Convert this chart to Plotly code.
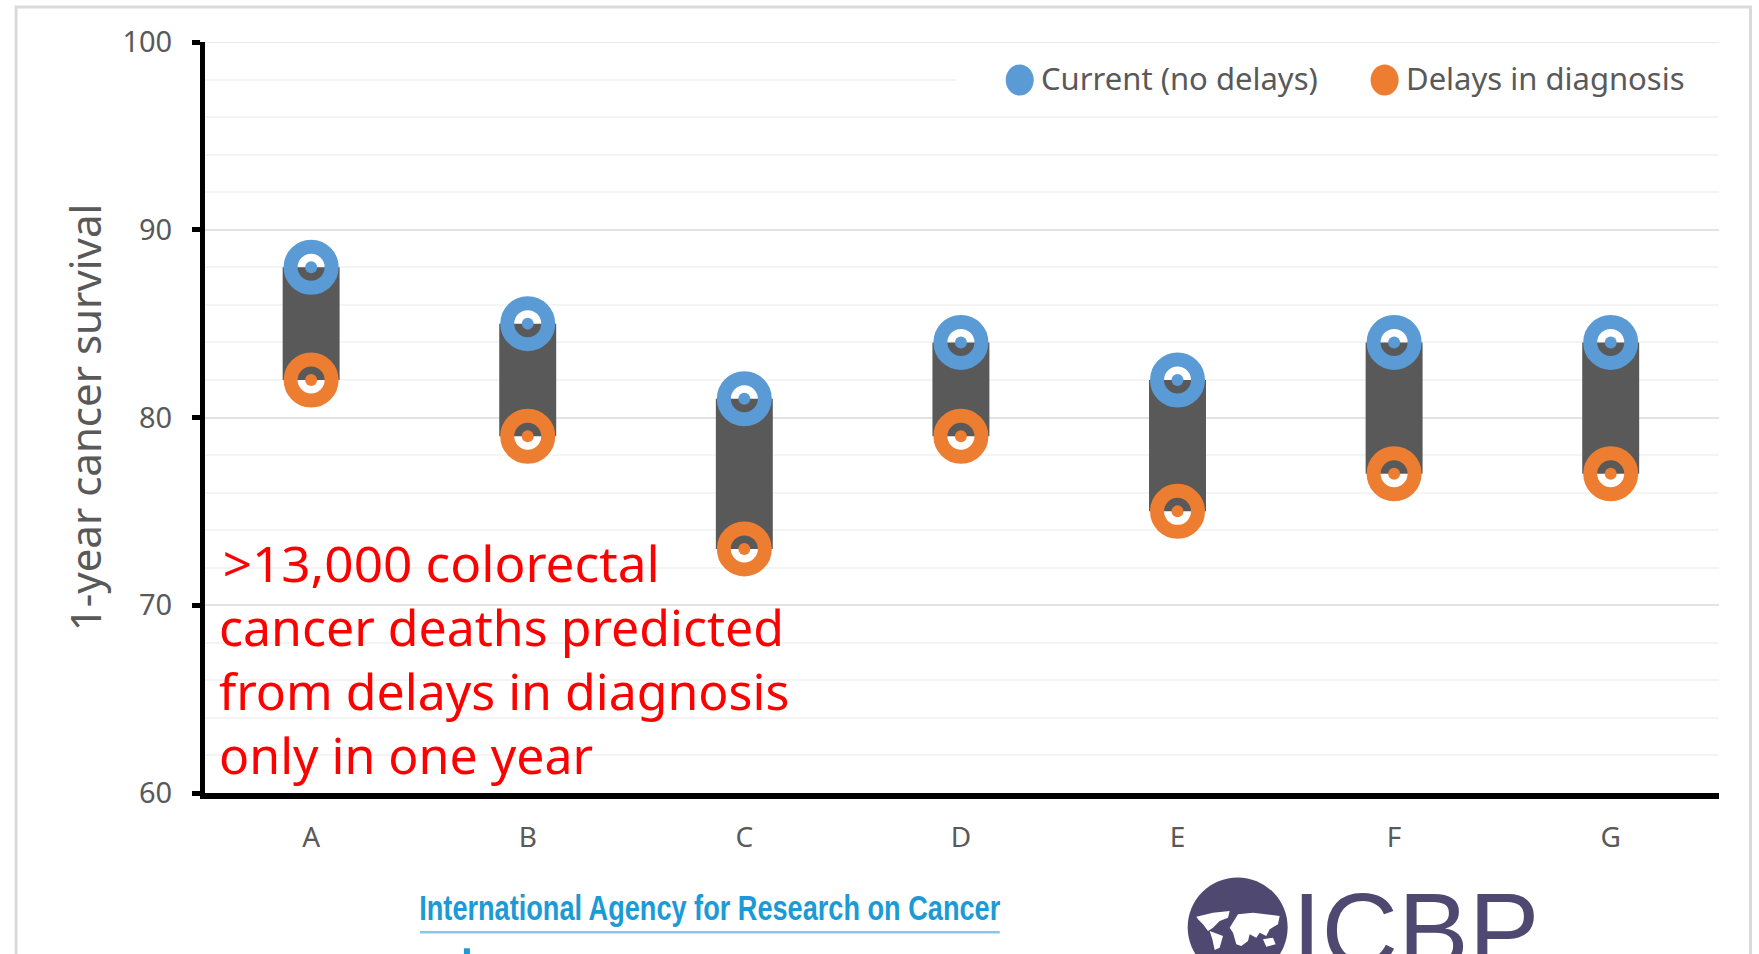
import plotly.graph_objects as go

categories = ["A", "B", "C", "D", "E", "F", "G"]
current = [88, 85, 81, 84, 82, 84, 84]
delays = [82, 79, 73, 79, 75, 77, 77]
y_ticks = [60, 70, 80, 90, 100]
note_lines = [">13,000 colorectal", "cancer deaths predicted", "from delays in diagnosis", "only in one year"]
BLUE, ORANGE, GRAY = "#5B9BD5", "#ED7D31", "#595959"
PURPLE = "#4F4870"
FONT = "Noto Sans"
L, T, PW, PH = 205, 41.5, 1514.5, 752

def fx(p): return (p - L) / PW
def fy(p): return 1 - (p - T) / PH

# world-map emblem of the logo, traced in pixels relative to the logo crop
LAND = [
    [(80,172),(130,160),(180,155),(175,175),(150,185),(130,205),(115,215),(100,195),(85,180)],
    [(120,215),(160,230),(150,265),(135,272),(128,240)],
    [(180,205),(205,165),(250,160),(330,170),(325,195),(300,210),(290,230),(270,220),(260,235),(240,225),(235,245),(215,260),(200,255),(190,220)],
    [(280,240),(310,235),(318,255),(290,262)],
]
def land_path(pts):
    coords = [(fx(1170 + a / 3), fy(860 + b / 3)) for a, b in pts]
    return "M" + " L".join(f"{a:.5f},{b:.5f}" for a, b in coords) + " Z"

fig = go.Figure()
fig.add_trace(go.Bar(x=categories, y=[c - d for c, d in zip(current, delays)], base=delays,
                     width=0.263, marker=dict(color=GRAY, line_width=0), name="Range", showlegend=False))
for name, vals, col in [("Current (no delays)", current, BLUE), ("Delays in diagnosis", delays, ORANGE)]:
    fig.add_trace(go.Scatter(x=categories, y=vals, mode="markers", name=name, showlegend=False,
                             marker=dict(symbol="circle-open", size=41, color=col, line=dict(color=col, width=14))))
    fig.add_trace(go.Scatter(x=categories, y=vals, mode="markers", name=name, showlegend=False,
                             marker=dict(symbol="circle", size=12, color=col)))

shapes = [
    dict(type="rect", xref="paper", yref="paper", x0=fx(16), x1=fx(1751), y0=fy(6.5), y1=fy(1000),
         line=dict(color="#DADADA", width=3), layer="below"),
    dict(type="line", xref="paper", yref="y", x0=0, x1=1, y0=100, y1=100,
         line=dict(color="#E3E3E3", width=1.5), layer="below"),
    dict(type="rect", xref="paper", yref="paper", x0=fx(957), x1=fx(1721), y0=fy(58), y1=fy(100),
         fillcolor="white", line_width=0, layer="above"),
    dict(type="circle", xref="paper", yref="paper", x0=fx(1006), x1=fx(1034), y0=fy(64), y1=fy(95),
         fillcolor=BLUE, line_width=0, layer="above"),
    dict(type="circle", xref="paper", yref="paper", x0=fx(1371), x1=fx(1399), y0=fy(64), y1=fy(95),
         fillcolor=ORANGE, line_width=0, layer="above"),
    dict(type="line", xref="paper", yref="paper", x0=fx(420), x1=fx(1000), y0=fy(933), y1=fy(933),
         line=dict(color="#8CC6E6", width=2.5), layer="above"),
    dict(type="line", xref="paper", yref="paper", x0=fx(467), x1=fx(467), y0=fy(949), y1=fy(956),
         line=dict(color="#1B9AD6", width=6), layer="above"),
    dict(type="circle", xref="paper", yref="paper", x0=fx(1188), x1=fx(1288), y0=fy(878), y1=fy(978),
         fillcolor=PURPLE, line_width=0, layer="above"),
]
for pts in LAND:
    shapes.append(dict(type="path", xref="paper", yref="paper", path=land_path(pts),
                       fillcolor="white", line_width=0, layer="above"))

anns = [
    dict(text="Current (no delays)", x=fx(1039), y=fy(78), xanchor="left", yanchor="middle",
         font=dict(size=31, color=GRAY, family=FONT)),
    dict(text="Delays in diagnosis", x=fx(1404), y=fy(78), xanchor="left", yanchor="middle",
         font=dict(size=31, color=GRAY, family=FONT)),
    dict(text="International Agency for Research on Cancer", x=fx(710), y=fy(908), xanchor="center", yanchor="middle",
         font=dict(size=35, color="#1B9AD6", family="Liberation Sans", weight=700)),
    dict(text="ICBP", x=fx(1290), y=fy(931), xanchor="left", yanchor="middle",
         font=dict(size=106, color=PURPLE, family="Liberation Sans")),
]
for i, line in enumerate(note_lines):
    if i == 0:
        pos = dict(x=fx(441), xanchor="center")
    else:
        pos = dict(x=fx(217), xanchor="left")
    anns.append(dict(text=line, y=fy(563 + i * 64), yanchor="middle",
                     font=dict(size=50, color="#FF0000", family=FONT), **pos))
for a in anns:
    a.update(xref="paper", yref="paper", showarrow=False)

fig.update_layout(
    width=1759, height=954, margin=dict(l=L, r=1759 - L - PW, t=T, b=954 - T - PH, pad=0),
    paper_bgcolor="white", plot_bgcolor="white", showlegend=False, shapes=shapes, annotations=anns,
    font=dict(family=FONT),
    xaxis=dict(type="category", range=[-0.49, 6.5], showline=True, linecolor="black", linewidth=5.5,
               ticks="", showgrid=False, tickfont=dict(size=28, color=GRAY), ticklabelstandoff=15),
    yaxis=dict(range=[60, 100], tickvals=y_ticks, showline=True, linecolor="black", linewidth=5,
               ticks="outside", ticklen=8, tickwidth=5, tickcolor="black", gridcolor="#E3E3E3", gridwidth=1.5,
               minor=dict(dtick=2, showgrid=True, gridcolor="#F4F4F4", gridwidth=1.5, ticks=""),
               tickfont=dict(size=29, color=GRAY), zeroline=False, ticklabelstandoff=14,
               title=dict(text="1-year cancer survival", font=dict(size=42, color=GRAY), standoff=9)),
)
post = """
document.body.style.margin='0';
var fit = {'International': '581', '>13,000': '437'};
document.querySelectorAll('.annotation-text').forEach(function(t){
  Object.keys(fit).forEach(function(k){
    if (t.textContent.indexOf(k) === 0) {
      t.setAttribute('textLength', fit[k]);
      t.setAttribute('lengthAdjust', 'spacingAndGlyphs');
    }
  });
});
"""
fig.write_html("out.html", post_script=post, config={"displayModeBar": False})
